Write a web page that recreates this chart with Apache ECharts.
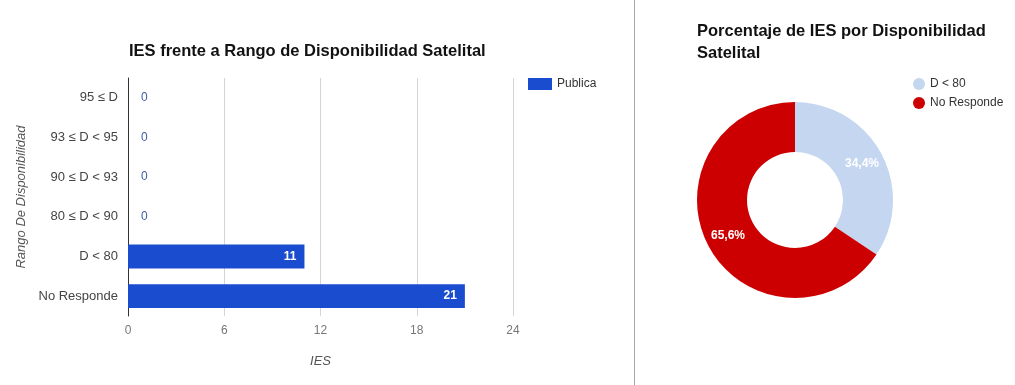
<!DOCTYPE html>
<html>
<head>
<meta charset="utf-8">
<script src="https://cdn.jsdelivr.net/npm/echarts@6/dist/echarts.min.js"></script>
<style>
  html, body { margin: 0; padding: 0; background: #fff; }
  #chart { width: 1015px; height: 385px; }
</style>
</head>
<body>
<div id="chart"></div>
<script>
// Availability ranges (bottom to top on the bar chart's category axis)
const ranges = ['No Responde', 'D < 80', '80 ≤ D < 90', '90 ≤ D < 93', '93 ≤ D < 95', '95 ≤ D'];
// Number of public institutions (IES) in each range
const publica = [21, 11, 0, 0, 0, 0];
// X-axis ticks
const xTicks = [0, 6, 12, 18, 24];

// Donut slices: only the non-empty ranges
const pieNames = ['D < 80', 'No Responde'];
const pieValues = [11, 21];

const FONT = '"Liberation Sans", Arial, sans-serif';
const BLUE = '#1a4ccf';
const LIGHT = '#c5d6f1';
const RED = '#cc0000';

const total = pieValues.reduce((a, b) => a + b, 0);
const fmtPct = v => (v / total * 100).toFixed(1).replace('.', ',') + '%';

const chart = echarts.init(document.getElementById('chart'), null, { renderer: 'canvas' });

chart.setOption({
  animation: false,
  textStyle: { fontFamily: FONT },
  title: [
    {
      text: 'IES frente a Rango de Disponibilidad Satelital',
      left: 124, top: 38,
      textStyle: { fontFamily: FONT, fontSize: 16.5, fontWeight: 'bold', color: '#111' }
    },
    {
      text: 'Porcentaje de IES por Disponibilidad\nSatelital',
      left: 692, top: 15,
      textStyle: { fontFamily: FONT, fontSize: 16.5, fontWeight: 'bold', color: '#111', lineHeight: 22 }
    }
  ],
  legend: [
    {
      data: ['Publica'],
      left: 523, top: 73,
      itemWidth: 24, itemHeight: 12, icon: 'rect',
      textStyle: { fontFamily: FONT, fontSize: 12, color: '#333' }
    },
    {
      data: pieNames,
      left: 908, top: 73, orient: 'vertical',
      itemWidth: 12, itemHeight: 12, itemGap: 7, icon: 'circle',
      textStyle: { fontFamily: FONT, fontSize: 12, color: '#333' }
    }
  ],
  grid: { left: 128, top: 78, width: 385, height: 238, containLabel: false },
  xAxis: {
    type: 'value', min: 0, max: 24, interval: 6,
    name: 'IES', nameLocation: 'middle', nameGap: 39,
    nameTextStyle: { fontFamily: FONT, fontStyle: 'italic', fontSize: 13, color: '#555' },
    axisLine: { show: false }, axisTick: { show: false },
    axisLabel: {
      fontFamily: FONT, fontSize: 12, color: '#777', margin: 9,
      formatter: v => xTicks.includes(v) ? String(v) : ''
    },
    splitLine: { lineStyle: { color: '#d4d4d4', width: 1 } }
  },
  yAxis: {
    type: 'category', data: ranges,
    name: 'Rango De Disponibilidad', nameLocation: 'middle', nameGap: 100, nameRotate: 90,
    nameTextStyle: { fontFamily: FONT, fontStyle: 'italic', fontSize: 13, color: '#555' },
    axisLine: { show: true, lineStyle: { color: '#333', width: 1 } },
    axisTick: { show: false },
    axisLabel: { fontFamily: FONT, fontSize: 13, color: '#444', margin: 10 }
  },
  series: [
    {
      name: 'Publica', type: 'bar',
      data: publica.map(v => ({
        value: v,
        label: v > 0
          ? { show: true, position: 'insideRight', distance: 8, color: '#fff', fontWeight: 'bold', fontSize: 12 }
          : { show: true, position: 'right', distance: 13, color: '#3d5ba8', fontSize: 12 }
      })),
      barCategoryGap: '40%',
      itemStyle: { color: BLUE },
      label: { fontFamily: FONT }
    },
    {
      name: 'IES', type: 'pie',
      center: [795, 200], radius: [48, 98],
      startAngle: 90, clockwise: true,
      data: pieNames.map((n, i) => ({
        name: n, value: pieValues[i],
        itemStyle: { color: i === 0 ? LIGHT : RED }
      })),
      label: {
        show: true, position: 'inside', color: '#fff', fontFamily: FONT, fontSize: 12,
        fontWeight: 'bold', formatter: p => fmtPct(p.value)
      },
      labelLine: { show: false },
      emphasis: { disabled: true }
    }
  ],
  graphic: [
    {
      type: 'line',
      shape: { x1: 634.5, y1: 0, x2: 634.5, y2: 385 },
      style: { stroke: '#a8a8a8', lineWidth: 1 }
    }
  ]
});
</script>
</body>
</html>
